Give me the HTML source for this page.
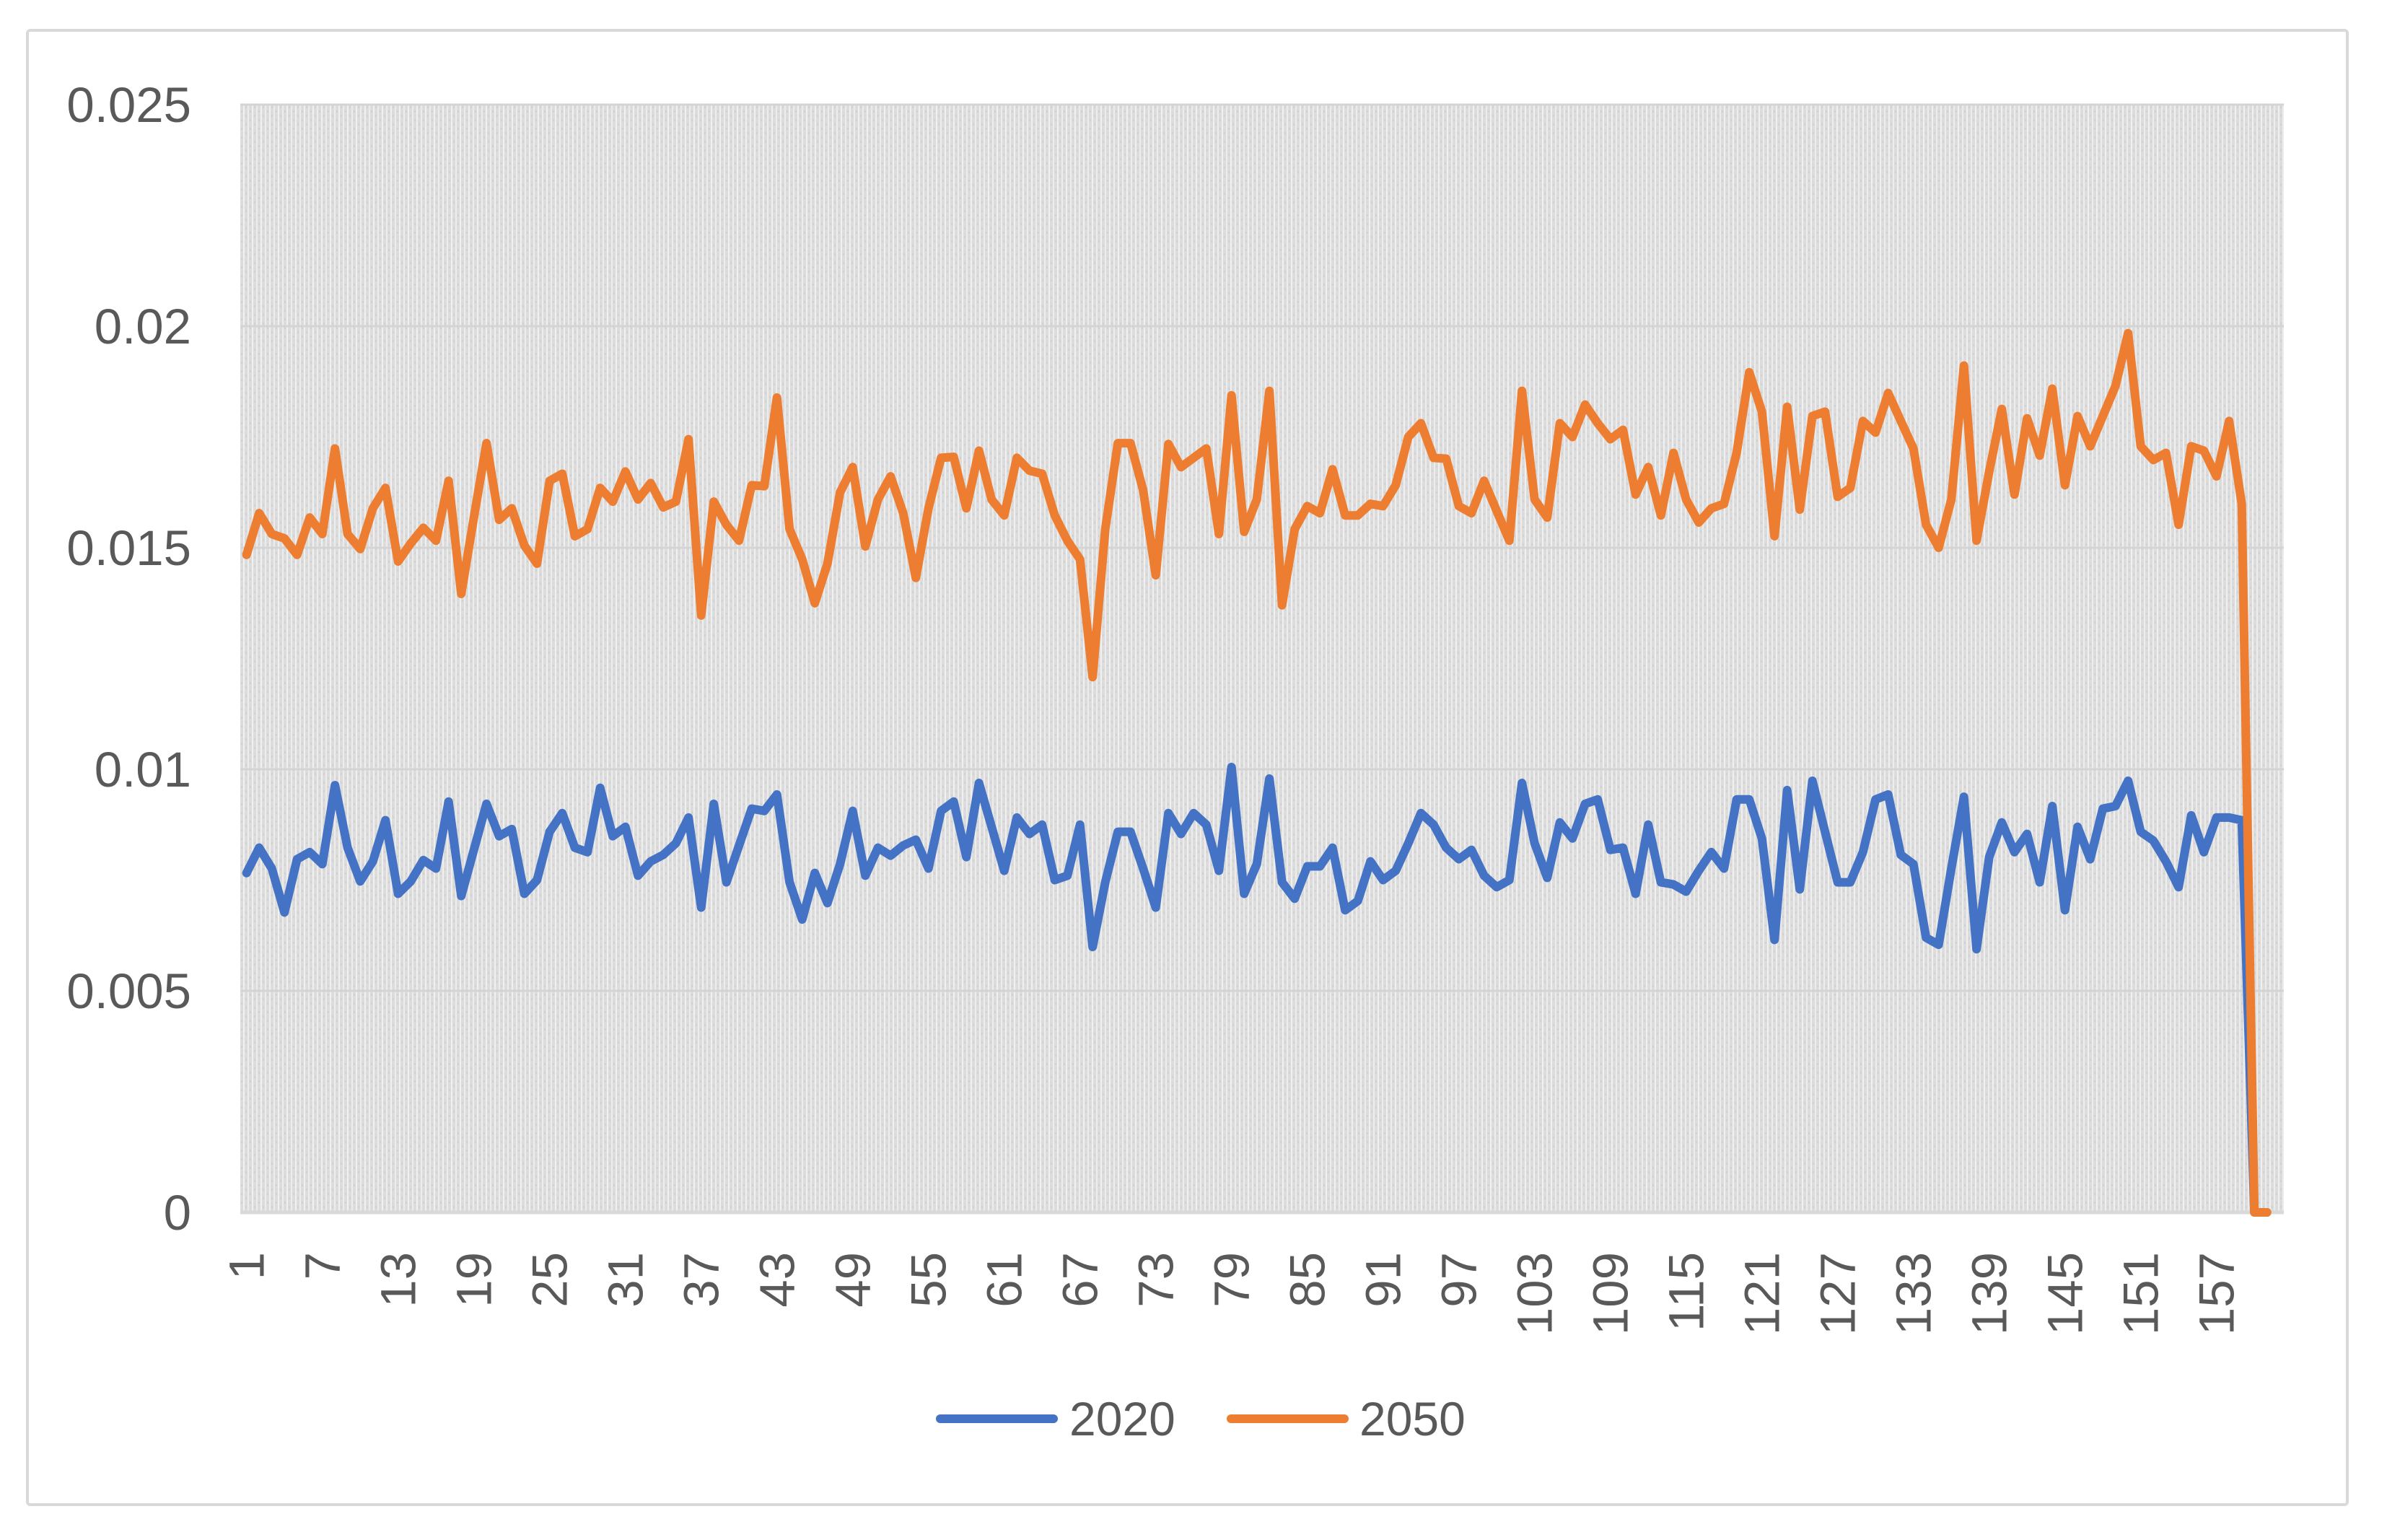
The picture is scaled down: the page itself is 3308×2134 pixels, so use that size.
<!DOCTYPE html>
<html><head><meta charset="utf-8"><style>
html,body{margin:0;padding:0;background:#fff;}
svg{display:block;font-family:"Liberation Sans",sans-serif;}
</style></head><body>
<svg id="chart" width="3308" height="2134" viewBox="0 0 3308 2134" xmlns="http://www.w3.org/2000/svg">
<defs>
<pattern id="weave" width="12" height="12" patternUnits="userSpaceOnUse">
<rect width="12" height="12" fill="#dcdcdc"/>
<rect x="1" y="0" width="2" height="12" fill="#f0f0f0"/>
<rect x="7" y="0" width="2" height="12" fill="#ececec"/>
<rect x="4" y="3" width="2" height="3" fill="#d2d2d2"/>
<rect x="10" y="9" width="2" height="3" fill="#d2d2d2"/>
</pattern>
</defs>
<rect x="38" y="42" width="3215" height="2043" rx="4" fill="#fff" stroke="#d9d9d9" stroke-width="4"/>
<rect x="333" y="145" width="2832" height="1535" fill="url(#weave)"/>
<g id="grid"></g>
<g id="ylabels"></g>
<g id="xlabels"></g>
<g id="series"></g>
<g>
<line x1="1303" y1="1966" x2="1460" y2="1966" stroke="#4472c4" stroke-width="12" stroke-linecap="round"/>
<text x="1482" y="1989" font-size="66" fill="#595959">2020</text>
<line x1="1706" y1="1966" x2="1863" y2="1966" stroke="#ed7d31" stroke-width="12" stroke-linecap="round"/>
<text x="1884" y="1989" font-size="66" fill="#595959">2050</text>
</g>
</svg>
<script>
const yTicks = [0, 0.005, 0.01, 0.015, 0.02, 0.025];
const yTickLabels = ["0", "0.005", "0.01", "0.015", "0.02", "0.025"];
const categoryCount = 161;
const xTickStep = 6;
const series2020 = [7.66,8.23,7.76,6.77,7.97,8.13,7.86,9.64,8.23,7.47,7.92,8.85,7.19,7.47,7.95,7.76,9.27,7.14,8.18,9.22,8.49,8.65,7.19,7.50,8.59,9.01,8.23,8.13,9.58,8.49,8.70,7.60,7.92,8.07,8.33,8.91,6.88,9.22,7.45,8.28,9.11,
9.06,9.43,7.45,6.61,7.66,6.98,7.86,9.06,7.60,8.23,8.05,8.28,8.41,7.76,9.06,9.27,8.02,9.69,8.70,7.71,8.91,8.54,8.75,7.50,7.60,8.75,5.99,7.45,8.59,8.59,7.76,6.88,9.01,8.54,9.01,8.75,7.71,10.05,7.19,7.86,9.79,
7.45,7.08,7.81,7.81,8.23,6.82,7.03,7.92,7.50,7.71,8.33,9.01,8.75,8.23,7.97,8.18,7.60,7.34,7.50,9.69,8.33,7.55,8.80,8.44,9.22,9.32,8.18,8.23,7.19,8.75,7.45,7.40,7.24,7.71,8.13,7.76,9.32,9.32,8.44,6.15,
9.53,7.29,9.74,8.59,7.45,7.45,8.13,9.32,9.43,8.07,7.86,6.20,6.04,7.76,9.38,5.94,8.02,8.80,8.13,8.54,7.45,9.17,6.82,8.70,7.97,9.11,9.17,9.74,8.59,8.39,7.92,7.34,8.96,8.13,8.91,8.91,8.85,0,0];
const series2050 = [14.84,15.78,15.31,15.21,14.84,15.68,15.31,17.24,15.31,14.97,15.89,16.35,14.69,15.10,15.45,15.16,16.51,13.96,15.68,17.36,15.63,15.89,15.05,14.64,16.51,16.67,15.26,15.42,16.35,16.04,16.72,16.09,16.46,15.91,16.04,17.45,13.47,16.04,15.52,15.16,16.41,
16.39,18.39,15.42,14.74,13.75,14.64,16.25,16.82,15.03,16.09,16.61,15.78,14.32,15.89,17.03,17.05,15.89,17.19,16.09,15.73,17.03,16.74,16.67,15.73,15.16,14.74,12.08,15.42,17.36,17.36,16.30,14.38,17.34,16.82,17.03,17.24,15.31,18.44,15.36,16.09,18.54,
13.70,15.42,15.94,15.78,16.77,15.73,15.73,15.99,15.94,16.41,17.50,17.81,17.03,17.01,15.94,15.78,16.51,15.83,15.16,18.54,16.09,15.68,17.81,17.50,18.23,17.81,17.45,17.66,16.20,16.82,15.73,17.14,16.09,15.57,15.89,15.99,17.14,18.96,18.07,15.26,
18.18,15.86,17.97,18.07,16.15,16.35,17.86,17.60,18.49,17.86,17.24,15.52,15.00,16.09,19.11,15.16,16.72,18.13,16.20,17.92,17.08,18.59,16.41,17.97,17.29,17.97,18.65,19.84,17.29,16.98,17.14,15.52,17.29,17.19,16.61,17.86,15.99,0,0];

const NS = "http://www.w3.org/2000/svg";
const plotLeft = 333, plotTop = 145, plotBottom = 1680, plotRight = 3165;
const band = 17.5;
const yMax = 0.025;
function xScale(i){ return plotLeft + 8.7 + i * band; }
function yScale(v){ return plotBottom - (v / yMax) * (plotBottom - plotTop); }

const grid = document.getElementById('grid');
const yl = document.getElementById('ylabels');
yTicks.forEach((t, k) => {
  const y = yScale(t);
  if (t > 0) {
    const ln = document.createElementNS(NS, 'line');
    
    
    ln.setAttribute('x1', plotLeft); ln.setAttribute('x2', plotRight);
    ln.setAttribute('y1', y); ln.setAttribute('y2', y);
    ln.setAttribute('stroke', '#d4d4d4'); ln.setAttribute('stroke-width', '3');
    grid.appendChild(ln);
  }
  const tx = document.createElementNS(NS, 'text');
  
  
  tx.setAttribute('x', 265); tx.setAttribute('y', y + 24);
  tx.setAttribute('text-anchor', 'end');
  tx.setAttribute('font-size', '69'); tx.setAttribute('fill', '#595959');
  tx.textContent = yTickLabels[k];
  yl.appendChild(tx);
});
const axis = document.createElementNS(NS, 'line');


axis.setAttribute('x1', plotLeft); axis.setAttribute('x2', plotRight);
axis.setAttribute('y1', plotBottom); axis.setAttribute('y2', plotBottom);
axis.setAttribute('stroke', '#d9d9d9'); axis.setAttribute('stroke-width', '5');
grid.appendChild(axis);

const xl = document.getElementById('xlabels');
for (let i = 0; i < categoryCount; i += xTickStep) {
  if (i + 1 > 157) break;
  const x = xScale(i);
  const tx = document.createElementNS(NS, 'text');
  
  
  tx.setAttribute('transform', 'translate(' + (x + 24) + ',1735) rotate(-90)');
  tx.setAttribute('text-anchor', 'end');
  tx.setAttribute('font-size', '69'); tx.setAttribute('fill', '#595959');
  tx.textContent = String(i + 1);
  xl.appendChild(tx);
}

const sg = document.getElementById('series');
function drawSeries(vals, color, name){
  const pts = vals.map((v, i) => xScale(i).toFixed(1) + ',' + yScale(v / 1000).toFixed(1)).join(' ');
  const pl = document.createElementNS(NS, 'polyline');
  
  
  pl.setAttribute('points', pts);
  pl.setAttribute('fill', 'none');
  pl.setAttribute('stroke', color);
  pl.setAttribute('stroke-width', '12');
  pl.setAttribute('stroke-linejoin', 'round');
  pl.setAttribute('stroke-linecap', 'round');
  sg.appendChild(pl);
}
drawSeries(series2020, '#4472c4', 'series-2020-line');
drawSeries(series2050, '#ed7d31', 'series-2050-line');
</script>
</body></html>
